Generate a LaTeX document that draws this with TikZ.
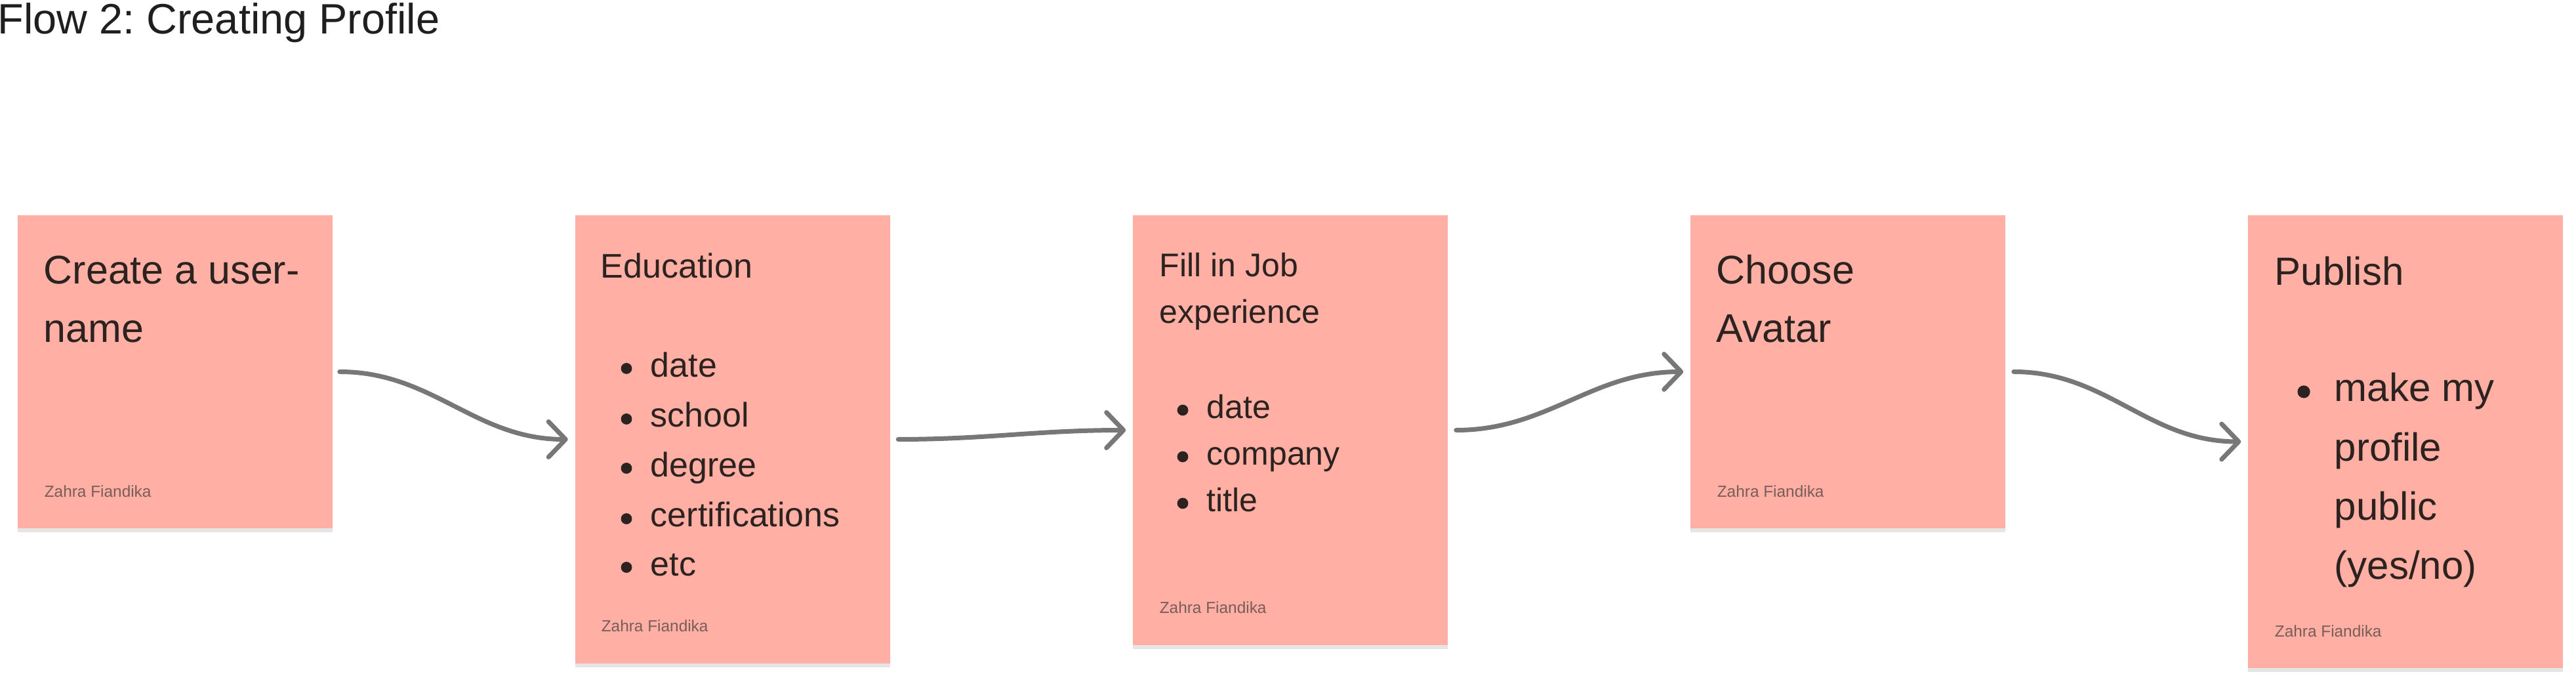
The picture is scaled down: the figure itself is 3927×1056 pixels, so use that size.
\documentclass[tikz,border=0pt]{standalone}
\usepackage{fontspec}
\setmainfont{Liberation Sans}
\usetikzlibrary{arrows.meta,shadows}
\definecolor{cardfill}{HTML}{FFAFA3}
\definecolor{ink}{HTML}{2C2220}
\definecolor{signc}{HTML}{7A5C58}
\definecolor{arrowc}{HTML}{777777}
\frenchspacing
\begin{document}
\begin{tikzpicture}[x=0.25pt,y=-0.25pt,
  card/.style={rectangle, fill=cardfill, inner sep=0pt, minimum width=120pt,
    drop shadow={shadow xshift=0pt, shadow yshift=-1.5pt, opacity=0.10, fill=black}},
  txt/.style={anchor=base west, inner sep=0pt, text=ink, align=left},
  sign/.style={anchor=base west, inner sep=0pt, text=signc, font=\fontsize{6.1pt}{7pt}\selectfont},
  flow/.style={draw=arrowc, line width=1.75pt, line cap=round, line join=round,
    -{Straight Barb[length=6.5pt,width=13.5pt,round]}},
  bul/.style={fill=ink}]
\useasboundingbox (0,0) rectangle (3927,1056);

% title
\node[txt, text=black!88, font=\fontsize{16.2pt}{19pt}\selectfont] (title) at (-4,52) {Flow 2: Creating Profile};

% cards
\node[card, minimum height=119.25pt] (b1) at (267,566.5) {};
\node[card, minimum height=170.75pt] (b2) at (1116.5,669.5) {};
\node[card, minimum height=163.75pt] (b3) at (1967,655.5) {};
\node[card, minimum height=119.25pt] (b4) at (2817,566.5) {};
\node[card, minimum height=172.5pt] (b5) at (3667,673) {};

% card 1 (anchor = baseline of last line)
\node[txt, font=\fontsize{15.25pt}{22.25pt}\selectfont] (t1) at (66,522) {Create a user-\\name};
\node[sign] (s1) at (67,758) {Zahra Fiandika};

% card 2
\node[txt, font=\fontsize{13pt}{18.94pt}\selectfont] (t2) at (915,424) {Education};
\node[txt, font=\fontsize{13pt}{18.94pt}\selectfont] (l2) at (991,878) {date\\school\\degree\\certifications\\etc};
\foreach \yy in {575,652,727,804,878} \fill[bul] (955,\yy-13.5) circle[radius=2.1pt];
\node[sign] (s2) at (916,963) {Zahra Fiandika};

% card 3
\node[txt, font=\fontsize{12.5pt}{17.75pt}\selectfont] (t3) at (1767,493) {Fill in Job\\experience};
\node[txt, font=\fontsize{12.5pt}{17.75pt}\selectfont] (l3) at (1839,780) {date\\company\\title};
\foreach \yy in {638,709,780} \fill[bul] (1803,\yy-13) circle[radius=2.1pt];
\node[sign] (s3) at (1767,935) {Zahra Fiandika};

% card 4
\node[txt, font=\fontsize{15.25pt}{22.25pt}\selectfont] (t4) at (2616,522) {Choose\\Avatar};
\node[sign] (s4) at (2617,758) {Zahra Fiandika};

% card 5
\node[txt, font=\fontsize{15pt}{22.6pt}\selectfont] (t5) at (3467,435) {Publish};
\node[txt, font=\fontsize{15pt}{22.6pt}\selectfont] (l5) at (3558,883) {make my\\profile\\public\\(yes/no)};
\fill[bul] (3512,597) circle[radius=2.4pt];
\node[sign] (s5) at (3467,971) {Zahra Fiandika};

% connectors
\draw[flow] ([xshift=2.5pt]b1.east) to[out=0,in=180] ([xshift=-2.5pt]b2.west);
\draw[flow] ([xshift=3pt]b2.east) to[out=0,in=180] ([xshift=-2.5pt]b3.west);
\draw[flow] ([xshift=3pt]b3.east) to[out=0,in=180] ([xshift=-2.5pt]b4.west);
\draw[flow] ([xshift=3pt]b4.east) to[out=0,in=180] ([xshift=-2.5pt]b5.west);
\end{tikzpicture}
\end{document}
